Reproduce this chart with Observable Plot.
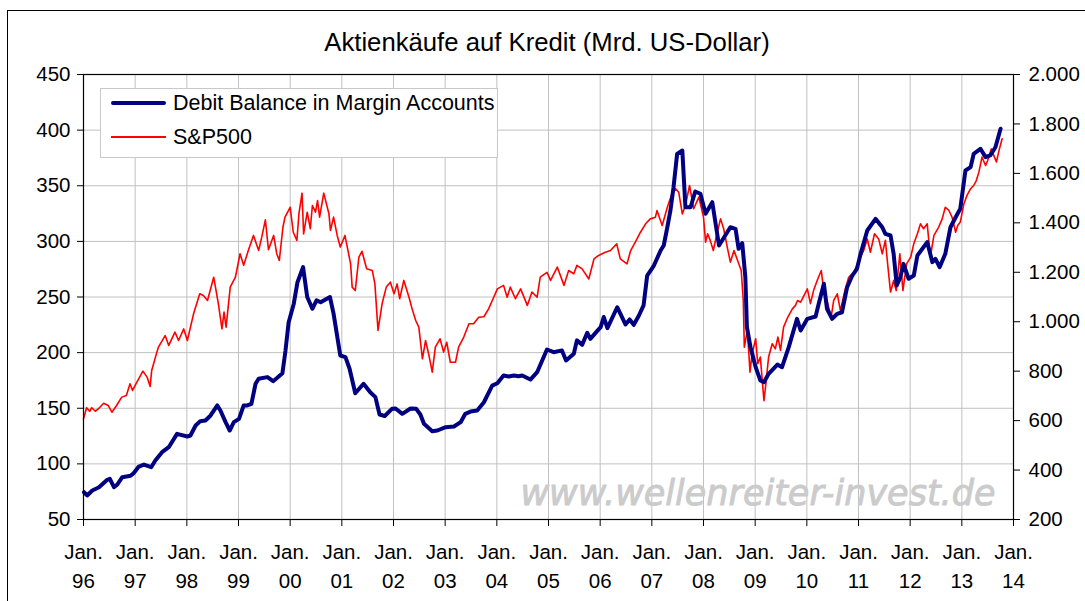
<!DOCTYPE html>
<html>
<head>
<meta charset="utf-8">
<script src="https://cdn.jsdelivr.net/npm/d3@7"></script>
<script src="https://cdn.jsdelivr.net/npm/@observablehq/plot@0.6"></script>
<style>
  body { margin: 0; background: #fff; }
  #wrap { position: relative; width: 1085px; height: 601px; overflow: hidden; font-family: "Liberation Sans", Arial, sans-serif; }
  #frame { position: absolute; left: 7px; top: 10px; width: 1100px; height: 620px; border: 1px solid #000; box-sizing: border-box; }
  #title { position: absolute; left: 0; width: 1094px; top: 28px; text-align: center; font-size: 25.7px; color: #000; }
  #legend { position: absolute; left: 100px; top: 88px; width: 398px; height: 70px; border: 1px solid #c8c8c8; background: #fff; box-sizing: border-box; }
  .lg { position: absolute; left: 10px; height: 24px; font-size: 21.5px; line-height: 24px; white-space: nowrap; }
  .lg .sw { position: absolute; left: 0; width: 55px; }
  .lg span.t { position: absolute; left: 62px; top: 0; }
  #chart { position: absolute; left: 0; top: 0; }
</style>
</head>
<body>
<div id="wrap">
  <div id="frame"></div>
  <div id="chart"></div>
  <div id="title">Aktienkäufe auf Kredit (Mrd. US-Dollar)</div>
  <div id="legend">
    <div class="lg" style="top:2px"><div class="sw" style="top:10px;height:4px;background:#000080;border-radius:2px"></div><span class="t">Debit Balance in Margin Accounts</span></div>
    <div class="lg" style="top:36px"><div class="sw" style="top:11px;height:2px;background:#ff0000"></div><span class="t">S&amp;P500</span></div>
  </div>
</div>
<script>
// ---- Data (decimal years) ----
const seriesNames = ["Debit Balance in Margin Accounts", "S&P500"];

const debitYear = [1996.01,1996.07,1996.17,1996.30,1996.46,1996.51,1996.59,1996.65,1996.75,1996.91,1996.97,1997.07,1997.17,1997.31,1997.39,1997.52,1997.65,1997.81,1998.01,1998.07,1998.17,1998.26,1998.36,1998.46,1998.59,1998.65,1998.75,1998.83,1998.91,1999.01,1999.10,1999.17,1999.25,1999.33,1999.39,1999.56,1999.67,1999.75,1999.85,1999.91,1999.97,2000.07,2000.14,2000.25,2000.33,2000.43,2000.51,2000.59,2000.77,2000.84,2000.97,2001.07,2001.15,2001.26,2001.42,2001.55,2001.65,2001.73,2001.83,2001.97,2002.04,2002.17,2002.33,2002.44,2002.52,2002.59,2002.75,2002.85,2003.01,2003.17,2003.30,2003.39,2003.49,2003.62,2003.75,2003.91,2004.01,2004.13,2004.23,2004.33,2004.42,2004.49,2004.65,2004.78,2004.97,2005.10,2005.26,2005.34,2005.49,2005.55,2005.65,2005.75,2005.81,2005.94,2006.01,2006.07,2006.14,2006.33,2006.39,2006.49,2006.57,2006.65,2006.75,2006.84,2006.91,2007.04,2007.17,2007.23,2007.30,2007.36,2007.42,2007.49,2007.59,2007.65,2007.75,2007.84,2007.94,2008.04,2008.17,2008.30,2008.36,2008.52,2008.62,2008.68,2008.75,2008.81,2008.84,2008.91,2009.01,2009.10,2009.17,2009.26,2009.43,2009.52,2009.65,2009.81,2009.88,2010.01,2010.17,2010.23,2010.33,2010.39,2010.49,2010.59,2010.68,2010.78,2010.88,2010.97,2011.04,2011.17,2011.33,2011.46,2011.52,2011.62,2011.68,2011.74,2011.81,2011.87,2011.97,2012.07,2012.14,2012.33,2012.43,2012.49,2012.57,2012.68,2012.78,2012.88,2012.97,2013.07,2013.17,2013.23,2013.36,2013.46,2013.55,2013.65,2013.75];
const debitValue = [74.5,71.6,76.1,79,85.7,86.6,79,81.2,88,89.3,91.6,97.6,99.4,97,103,110.5,115,127,124.6,125.5,134.5,138.4,139,143.5,152.5,148,137.5,130,137.5,140.5,152.5,152.5,154,172,176.5,178,174.3,177.4,181.5,202,227,244,263,276.8,250,239.4,247,245.3,250,235,197.4,196,185.5,163.5,172,164.4,160,144.4,143,149.5,149.8,145,149.8,149.5,144.4,136,129.4,130,133,133.6,137.5,145,147,148,155.4,170.4,172.5,179.4,178.5,179.4,178.8,179.4,175.8,182.4,202.8,200.4,202,193,199,211,207,217.8,212.4,219.3,222.9,232,222,240.8,235,225.3,229.8,225,233.4,242.4,269.3,278.3,291.8,296.3,312.7,327.8,348.7,378.7,381.7,330.7,330.7,344.8,342.8,324.8,335.2,296.3,300.8,312.7,311.3,293.3,298.4,267.8,222.9,204.9,186.9,175,173.4,181,189.3,186.9,204.9,230.4,219.9,230.4,232.5,243.9,261.9,239.4,230.4,234.9,236.3,258.8,269.3,275.3,288.8,309.8,320.3,312.7,306.8,305.3,288.8,260.3,267.8,279.8,266.4,269.3,287.3,299.3,281.3,284.3,276.8,288.8,312.7,321.7,329.3,363.7,366.7,378.7,383.2,375.7,377.2,384.6,401.2];

const spxYear = [1996.00,1996.06,1996.12,1996.16,1996.23,1996.29,1996.39,1996.48,1996.55,1996.64,1996.74,1996.83,1996.90,1996.95,1997.03,1997.15,1997.23,1997.29,1997.32,1997.42,1997.45,1997.58,1997.65,1997.77,1997.84,1997.94,1998.01,1998.13,1998.25,1998.32,1998.40,1998.52,1998.61,1998.68,1998.72,1998.76,1998.84,1998.94,1999.03,1999.10,1999.19,1999.29,1999.39,1999.45,1999.52,1999.58,1999.68,1999.74,1999.79,1999.86,1999.90,2000.00,2000.06,2000.13,2000.17,2000.23,2000.26,2000.33,2000.39,2000.43,2000.49,2000.53,2000.57,2000.65,2000.75,2000.78,2000.84,2000.91,2000.97,2001.06,2001.17,2001.20,2001.26,2001.33,2001.39,2001.48,2001.59,2001.64,2001.70,2001.78,2001.86,2001.94,2002.01,2002.07,2002.12,2002.20,2002.30,2002.36,2002.43,2002.49,2002.56,2002.62,2002.68,2002.75,2002.81,2002.90,2002.97,2003.03,2003.10,2003.20,2003.26,2003.36,2003.46,2003.55,2003.65,2003.75,2003.84,2003.94,2004.01,2004.13,2004.20,2004.26,2004.36,2004.46,2004.59,2004.68,2004.78,2004.84,2004.97,2005.04,2005.17,2005.30,2005.39,2005.49,2005.55,2005.65,2005.78,2005.88,2005.97,2006.10,2006.20,2006.32,2006.39,2006.52,2006.59,2006.68,2006.78,2006.88,2006.97,2007.07,2007.10,2007.20,2007.30,2007.39,2007.46,2007.52,2007.59,2007.65,2007.73,2007.81,2007.91,2007.94,2008.00,2008.04,2008.08,2008.13,2008.19,2008.26,2008.33,2008.39,2008.46,2008.52,2008.59,2008.66,2008.73,2008.77,2008.79,2008.85,2008.90,2008.94,2009.01,2009.05,2009.10,2009.17,2009.20,2009.26,2009.33,2009.39,2009.44,2009.49,2009.55,2009.63,2009.72,2009.78,2009.82,2009.88,2010.01,2010.07,2010.13,2010.20,2010.28,2010.33,2010.39,2010.47,2010.52,2010.59,2010.65,2010.73,2010.81,2010.91,2011.01,2011.10,2011.17,2011.23,2011.31,2011.39,2011.46,2011.52,2011.57,2011.62,2011.68,2011.73,2011.80,2011.86,2011.93,2012.01,2012.07,2012.14,2012.20,2012.26,2012.33,2012.39,2012.46,2012.55,2012.62,2012.68,2012.75,2012.81,2012.88,2012.92,2012.97,2013.04,2013.10,2013.17,2013.23,2013.28,2013.33,2013.39,2013.46,2013.50,2013.57,2013.62,2013.67,2013.72,2013.78];
const spxValue = [607,652,638,652,638,648,670,661,634,661,695,702,749,722,755,800,776,738,803,877,897,944,904,958,924,971,924,1032,1113,1106,1086,1180,1073,971,1039,978,1140,1180,1275,1228,1288,1349,1288,1342,1412,1291,1349,1275,1248,1382,1423,1463,1362,1329,1437,1520,1355,1443,1376,1470,1443,1490,1423,1520,1437,1369,1423,1349,1302,1349,1234,1140,1126,1261,1285,1214,1207,1153,965,1073,1140,1160,1113,1153,1093,1167,1099,1052,1005,978,850,924,870,796,897,931,877,917,836,836,897,938,992,992,1018,1020,1052,1099,1133,1147,1099,1140,1093,1133,1066,1120,1099,1180,1200,1167,1221,1147,1207,1194,1228,1214,1173,1254,1268,1281,1288,1315,1254,1234,1288,1322,1362,1396,1416,1423,1450,1389,1463,1518,1538,1524,1436,1470,1551,1457,1504,1477,1423,1322,1356,1329,1288,1356,1416,1376,1302,1241,1288,1248,1207,1086,897,965,796,870,931,830,857,681,735,857,911,890,938,884,978,1018,1052,1066,1086,1079,1133,1073,1126,1167,1207,1120,1086,1018,1086,1113,1045,1120,1180,1200,1248,1288,1335,1281,1356,1335,1275,1329,1221,1120,1167,1126,1275,1126,1234,1261,1315,1356,1396,1376,1396,1261,1349,1382,1416,1463,1450,1423,1362,1389,1403,1477,1511,1538,1551,1571,1605,1666,1632,1652,1699,1672,1646,1693,1740];

const xTickYears = [1996,1997,1998,1999,2000,2001,2002,2003,2004,2005,2006,2007,2008,2009,2010,2011,2012,2013,2014];
const xTickLabels = ["96","97","98","99","00","01","02","03","04","05","06","07","08","09","10","11","12","13","14"];
const leftTicks = [50,100,150,200,250,300,350,400,450];
const rightTicks = [200,400,600,800,1000,1200,1400,1600,1800,2000];
const watermark = "www.wellenreiter-invest.de";

// ---- map the right axis (200..2000) onto the left scale (50..450) ----
const toLeft = r => 50 + (r - 200) * (450 - 50) / (2000 - 200);
const toRight = l => 200 + (l - 50) * (2000 - 200) / (450 - 50);
const de = d3.formatLocale({decimal: ",", thousands: ".", grouping: [3], currency: ["", " €"]});
const fmtDe = de.format(",d");

const debit = debitYear.map((t, i) => ({t, v: debitValue[i]}));
const spx = spxYear.map((t, i) => ({t, v: toLeft(spxValue[i])}));

const chart = Plot.plot({
  width: 1085,
  height: 601,
  marginLeft: 83,
  marginRight: 72,
  marginTop: 74,
  marginBottom: 82,
  x: {domain: [1996, 2014]},
  y: {domain: [50, 450]},
  style: {fontFamily: "'Liberation Sans', Arial, sans-serif", fontSize: "20.5px", color: "#000", background: "transparent", overflow: "visible"},
  marks: [
    Plot.gridX(xTickYears, {stroke: "#c0c0c0", strokeOpacity: 1, strokeWidth: 1}),
    Plot.gridY(leftTicks, {stroke: "#c0c0c0", strokeOpacity: 1, strokeWidth: 1}),
    Plot.text([watermark], {frameAnchor: "bottom-right", textAnchor: "end", lineAnchor: "bottom", dx: -18, dy: -15,
      fill: "#cbcbcb", stroke: "#cbcbcb", strokeWidth: 0.9, fontSize: 35, fontStyle: "italic", fontWeight: "normal",
      fontFamily: "'DejaVu Sans', Verdana, sans-serif"}),
    Plot.line(spx, {x: "t", y: "v", stroke: "#ff0000", strokeWidth: 1.6}),
    Plot.line(debit, {x: "t", y: "v", stroke: "#000080", strokeWidth: 4, strokeLinejoin: "round", strokeLinecap: "round"}),
    Plot.frame({stroke: "#000", strokeWidth: 1.2}),
    Plot.axisY(leftTicks, {anchor: "left", tickSize: 6, tickPadding: 7, label: null, stroke: "#000"}),
    Plot.axisY(rightTicks.map(toLeft), {anchor: "right", tickSize: 6, tickPadding: 9, label: null,
      tickFormat: d => fmtDe(Math.round(toRight(d)))}),
    Plot.axisX(xTickYears, {anchor: "bottom", tickSize: 7, tickPadding: 18, label: null, tickFormat: () => "Jan."}),
    Plot.axisX(xTickYears, {anchor: "bottom", tickSize: 0, tickPadding: 54, label: null,
      tickFormat: d => xTickLabels[xTickYears.indexOf(d)]})
  ]
});
document.getElementById("chart").appendChild(chart);
</script>
</body>
</html>
